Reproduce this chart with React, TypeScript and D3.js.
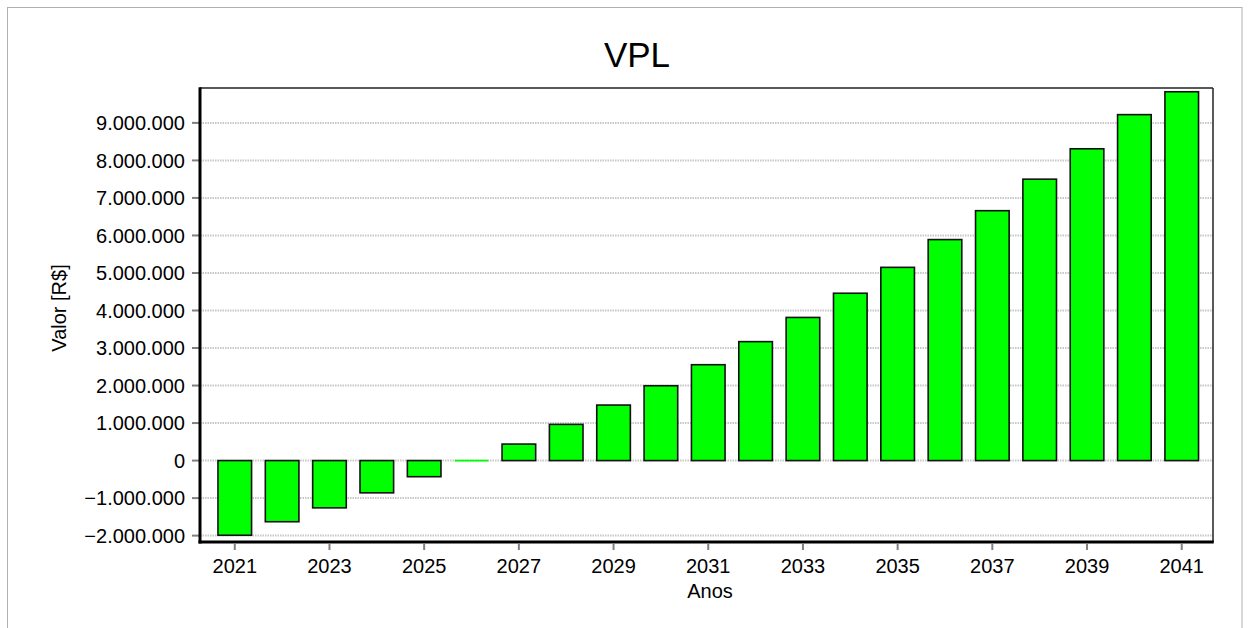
import { useEffect, useRef } from 'react'
import * as d3 from 'd3'

const years = d3.range(2021, 2042).map(String)
const vpl = [
  -1990000, -1630000, -1260000, -860000, -430000, 0, 440000, 965000, 1480000, 1995000,
  2555000, 3170000, 3815000, 4460000, 5150000, 5890000, 6660000, 7500000, 8310000, 9220000, 9830000,
]
const yTicks = d3.range(-2000000, 9000001, 1000000)
const xTickYears = years.filter((_, i) => i % 2 === 0)

const fmt = (v: number) => d3.format(',')(v).replace(/,/g, '.')

export default function App() {
  const svgRef = useRef<SVGSVGElement>(null)

  useEffect(() => {
    if (!svgRef.current) return
    const width = 1251
    const height = 628
    const plot = { left: 200, right: 1213, top: 88, bottom: 542 }
    const font = '"Liberation Sans", Arial, sans-serif'

    const svg = d3.select(svgRef.current)
    svg.selectAll('*').remove()
    svg.attr('width', width).attr('height', height).style('font-family', font)

    // outer frame
    svg.append('rect')
      .attr('x', 7.5).attr('y', 7.5)
      .attr('width', 1234.5).attr('height', 640)
      .attr('fill', '#fff').attr('stroke', '#b0b0b0').attr('stroke-width', 1)

    const x = d3.scaleBand()
      .domain(years)
      .range([211.1, 1205.4])
      .paddingInner(0.29)
      .paddingOuter(0.145)

    const y = d3.scaleLinear()
      .domain([-2170000, 9930000])
      .range([plot.bottom, plot.top])

    // grid lines
    svg.append('g')
      .selectAll('line')
      .data(yTicks)
      .join('line')
      .attr('x1', plot.left).attr('x2', plot.right)
      .attr('y1', d => y(d)).attr('y2', d => y(d))
      .attr('stroke', '#c8c8c8').attr('stroke-width', 2).attr('stroke-dasharray', '1.5 1')

    // y ticks
    const yAxis = svg.append('g')
    yAxis.selectAll('line')
      .data(yTicks)
      .join('line')
      .attr('x1', 192).attr('x2', plot.left)
      .attr('y1', d => y(d)).attr('y2', d => y(d))
      .attr('stroke', '#808080').attr('stroke-width', 2)
    yAxis.selectAll('text')
      .data(yTicks)
      .join('text')
      .attr('x', 185).attr('y', d => y(d))
      .attr('dy', '0.36em')
      .attr('text-anchor', 'end')
      .attr('font-size', 20)
      .attr('fill', '#000')
      .text(d => fmt(d))

    // bars
    const bars = vpl.map((v, i) => ({ year: years[i], v }))
    const flat = (v: number) => Math.abs(y(v) - y(0)) < 1
    svg.append('g')
      .selectAll('rect')
      .data(bars.filter(b => !flat(b.v)))
      .join('rect')
      .attr('x', d => x(d.year) ?? 0)
      .attr('width', x.bandwidth())
      .attr('y', d => y(Math.max(0, d.v)))
      .attr('height', d => Math.abs(y(d.v) - y(0)))
      .attr('fill', '#00ff00')
      .attr('stroke', '#111')
      .attr('stroke-width', 1.6)
    // bars with (almost) no height show only as a green line
    svg.append('g')
      .selectAll('line')
      .data(bars.filter(b => flat(b.v)))
      .join('line')
      .attr('x1', d => x(d.year) ?? 0)
      .attr('x2', d => (x(d.year) ?? 0) + x.bandwidth())
      .attr('y1', d => y(d.v)).attr('y2', d => y(d.v))
      .attr('stroke', '#00ff00')
      .attr('stroke-width', 1.6)

    // frame: thin top / right, thick left / bottom
    svg.append('line')
      .attr('x1', plot.left).attr('x2', plot.right)
      .attr('y1', plot.top).attr('y2', plot.top)
      .attr('stroke', '#222').attr('stroke-width', 1.5)
    svg.append('line')
      .attr('x1', plot.right).attr('x2', plot.right)
      .attr('y1', plot.top).attr('y2', plot.bottom)
      .attr('stroke', '#222').attr('stroke-width', 1.5)
    svg.append('line')
      .attr('x1', plot.left).attr('x2', plot.left)
      .attr('y1', plot.top - 0.75).attr('y2', plot.bottom + 1.5)
      .attr('stroke', '#000').attr('stroke-width', 3)
    svg.append('line')
      .attr('x1', plot.left - 1.5).attr('x2', plot.right + 0.75)
      .attr('y1', plot.bottom).attr('y2', plot.bottom)
      .attr('stroke', '#000').attr('stroke-width', 3)

    // x ticks
    const xAxis = svg.append('g')
    xAxis.selectAll('line')
      .data(xTickYears)
      .join('line')
      .attr('x1', d => (x(d) ?? 0) + x.bandwidth() / 2)
      .attr('x2', d => (x(d) ?? 0) + x.bandwidth() / 2)
      .attr('y1', plot.bottom + 1.5).attr('y2', 550)
      .attr('stroke', '#808080').attr('stroke-width', 2)
    xAxis.selectAll('text')
      .data(xTickYears)
      .join('text')
      .attr('x', d => (x(d) ?? 0) + x.bandwidth() / 2)
      .attr('y', 572.5)
      .attr('text-anchor', 'middle')
      .attr('font-size', 20)
      .attr('fill', '#000')
      .text(d => d)

    // titles
    svg.append('text')
      .attr('x', 637).attr('y', 66.5)
      .attr('text-anchor', 'middle')
      .attr('font-size', 35)
      .text('VPL')
    svg.append('text')
      .attr('x', 710).attr('y', 598)
      .attr('text-anchor', 'middle')
      .attr('font-size', 20)
      .text('Anos')
    svg.append('text')
      .attr('transform', 'translate(66,308) rotate(-90)')
      .attr('text-anchor', 'middle')
      .attr('font-size', 20)
      .text('Valor [R$]')
  }, [])

  return (
    <div style={{ position: 'absolute', left: 0, top: 0 }}>
      <svg ref={svgRef} style={{ display: 'block' }} />
    </div>
  )
}
